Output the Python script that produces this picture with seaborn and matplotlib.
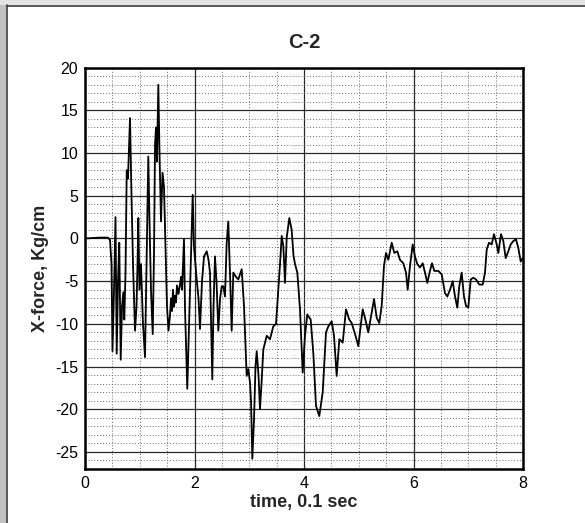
import numpy as np
import pandas as pd
import matplotlib
matplotlib.use("Agg")
import matplotlib.pyplot as plt
from matplotlib.ticker import MultipleLocator
from matplotlib.patches import Rectangle
from matplotlib.lines import Line2D
import seaborn as sns

# ── Data ──────────────────────────────────────────────────────
time = [
    0.000, 0.274, 0.420, 0.457, 0.484, 0.502, 0.530, 0.557, 0.579, 0.603,
    0.626, 0.652, 0.676, 0.700, 0.718, 0.740, 0.762, 0.785, 0.822, 0.849,
    0.877, 0.913, 0.941, 0.959, 0.974, 0.995, 1.023, 1.059, 1.096, 1.123,
    1.156, 1.178, 1.205, 1.237, 1.260, 1.279, 1.297, 1.315, 1.339, 1.361,
    1.388, 1.416, 1.443, 1.470, 1.498, 1.525, 1.553, 1.571, 1.589, 1.607,
    1.626, 1.644, 1.662, 1.680, 1.708, 1.735, 1.754, 1.772, 1.808, 1.826,
    1.845, 1.868, 1.900, 1.927, 1.967, 1.991, 2.040, 2.073, 2.100, 2.137,
    2.174, 2.223, 2.256, 2.283, 2.325, 2.347, 2.374, 2.402, 2.435, 2.466,
    2.497, 2.526, 2.557, 2.588, 2.617, 2.648, 2.679, 2.709, 2.758, 2.800,
    2.862, 2.904, 2.953, 2.983, 3.014, 3.032, 3.056, 3.087, 3.114, 3.136,
    3.169, 3.196, 3.224, 3.257, 3.319, 3.379, 3.439, 3.489, 3.531, 3.562,
    3.593, 3.622, 3.653, 3.684, 3.732, 3.775, 3.808, 3.836, 3.878, 3.927,
    3.976, 4.018, 4.060, 4.122, 4.170, 4.219, 4.279, 4.342, 4.402, 4.444,
    4.506, 4.548, 4.597, 4.645, 4.707, 4.767, 4.827, 4.871, 4.932, 4.992,
    5.072, 5.114, 5.174, 5.237, 5.279, 5.328, 5.375, 5.419, 5.461, 5.498,
    5.540, 5.602, 5.649, 5.704, 5.753, 5.814, 5.863, 5.894, 5.936, 5.985,
    6.027, 6.069, 6.119, 6.168, 6.210, 6.252, 6.301, 6.338, 6.380, 6.453,
    6.515, 6.575, 6.617, 6.667, 6.716, 6.758, 6.800, 6.836, 6.880, 6.922,
    6.959, 7.001, 7.045, 7.092, 7.142, 7.202, 7.264, 7.306, 7.337, 7.379,
    7.428, 7.470, 7.520, 7.549, 7.598, 7.640, 7.684, 7.732, 7.775, 7.823,
    7.872, 7.914, 7.958, 7.995,
]
force = [
    0.0, 0.1, 0.1, -0.2, -3.0, -13.2, -6.0, 2.5, -13.5, -5.0,
    -0.5, -14.2, -8.0, -6.3, -9.5, -4.0, 8.0, 7.0, 14.1, 5.0,
    -3.0, -10.8, -8.0, -3.0, 2.4, -6.0, -3.0, -10.0, -13.9, -3.0,
    9.6, 2.0, -6.0, -11.2, -2.0, 11.0, 13.0, 9.0, 18.0, 10.0,
    2.0, 7.7, 6.0, -1.0, -8.0, -10.8, -9.0, -7.0, -8.5, -6.0,
    -8.0, -6.7, -7.5, -5.5, -6.5, -5.4, -4.5, -6.0, -0.1, -8.0,
    -12.2, -17.6, -10.0, -4.0, 5.1, -1.0, -4.8, -7.0, -10.6, -5.0,
    -2.1, -1.5, -2.5, -4.0, -16.5, -8.0, -2.1, -5.0, -10.8, -7.1,
    -5.6, -5.6, -6.8, -0.5, 2.0, -4.0, -10.8, -4.0, -4.5, -4.8,
    -3.6, -7.9, -16.1, -15.3, -16.9, -19.0, -25.8, -21.2, -15.0, -13.2,
    -16.0, -20.0, -17.0, -13.0, -11.4, -11.8, -10.3, -10.0, -6.0, -3.0,
    0.3, -0.9, -5.2, 0.1, 2.4, 1.0, -2.0, -3.0, -4.0, -8.3,
    -15.7, -11.4, -8.9, -9.5, -13.4, -19.6, -20.8, -18.0, -11.0, -10.3,
    -9.7, -11.4, -16.1, -11.8, -12.2, -8.3, -9.5, -9.9, -11.2, -12.6,
    -8.3, -9.3, -11.0, -8.7, -7.1, -9.3, -9.9, -7.9, -3.2, -1.7,
    -2.5, -0.5, -1.7, -1.5, -2.5, -2.9, -4.0, -6.0, -3.2, -0.7,
    -2.1, -3.0, -3.4, -2.9, -4.0, -5.2, -3.8, -2.9, -3.8, -3.8,
    -4.2, -6.4, -6.8, -6.0, -5.0, -6.8, -8.1, -5.6, -4.0, -6.8,
    -7.9, -8.1, -4.8, -4.6, -4.8, -5.4, -5.4, -4.0, -1.3, -0.5,
    -0.7, 0.5, -0.7, -1.7, 0.5, -0.3, -2.3, -1.5, -0.7, -0.3,
    -0.1, -1.1, -2.7, -2.3,
]
x_ticks = [0, 2, 4, 6, 8]
y_ticks = [-25, -20, -15, -10, -5, 0, 5, 10, 15, 20]

df = pd.DataFrame({"time": time, "force": force})

sns.set_style("white")
plt.rcParams["font.family"] = ["Liberation Sans", "DejaVu Sans"]
plt.rcParams["axes.unicode_minus"] = False

W, H = 585, 523
fig = plt.figure(figsize=(W / 100, H / 100), dpi=100)
fig.patch.set_facecolor("white")

# window-like frame on the left and top edges
fig.patches.append(Rectangle((0, 0), 6 / W, 1, transform=fig.transFigure,
                             facecolor="#c2c2c2", edgecolor="none", zorder=0))
fig.patches.append(Rectangle((0, 1 - 5 / H), 1, 5 / H, transform=fig.transFigure,
                             facecolor="#e4e4e4", edgecolor="none", zorder=0))
fig.lines.append(Line2D([6.5 / W, 6.5 / W], [0, 1 - 5 / H], transform=fig.transFigure,
                        color="#3c3c3c", lw=1.2))
fig.lines.append(Line2D([6.5 / W, 1], [1 - 5.5 / H, 1 - 5.5 / H], transform=fig.transFigure,
                        color="#3c3c3c", lw=1.2))

ax = fig.add_axes([85 / W, 1 - 469 / H, (523 - 85) / W, (469 - 67.7) / H])

sns.lineplot(data=df, x="time", y="force", ax=ax, sort=False, estimator=None,
             color="black", linewidth=1.3)

ax.set_xlim(0, 8)
ax.set_ylim(-27, 20)
ax.set_xticks(x_ticks)
ax.set_yticks(y_ticks)
ax.xaxis.set_minor_locator(MultipleLocator(0.5))
ax.yaxis.set_minor_locator(MultipleLocator(1))

ax.grid(which="major", color="#2a2a2a", linewidth=0.9, linestyle="-")
ax.grid(which="minor", color="#6a6a6a", linewidth=0.7, linestyle=(0, (1, 2)))
ax.set_axisbelow(True)

ax.tick_params(which="major", direction="in", length=6, width=2, labelsize=11.5,
               pad=5, top=False, right=False, colors="black")
ax.tick_params(which="minor", direction="in", length=3, width=1,
               top=False, right=False)
for sp in ax.spines.values():
    sp.set_linewidth(1.8)
    sp.set_color("black")

ax.set_title("C-2", fontsize=14.5, fontweight="bold", pad=14)
ax.set_xlabel("time, 0.1 sec", fontsize=13, fontweight="bold", labelpad=2)
ax.set_ylabel("X-force, Kg/cm", fontsize=13, fontweight="bold", labelpad=4)

fig.savefig("out.png", dpi=100, facecolor=fig.get_facecolor())
plt.close()
